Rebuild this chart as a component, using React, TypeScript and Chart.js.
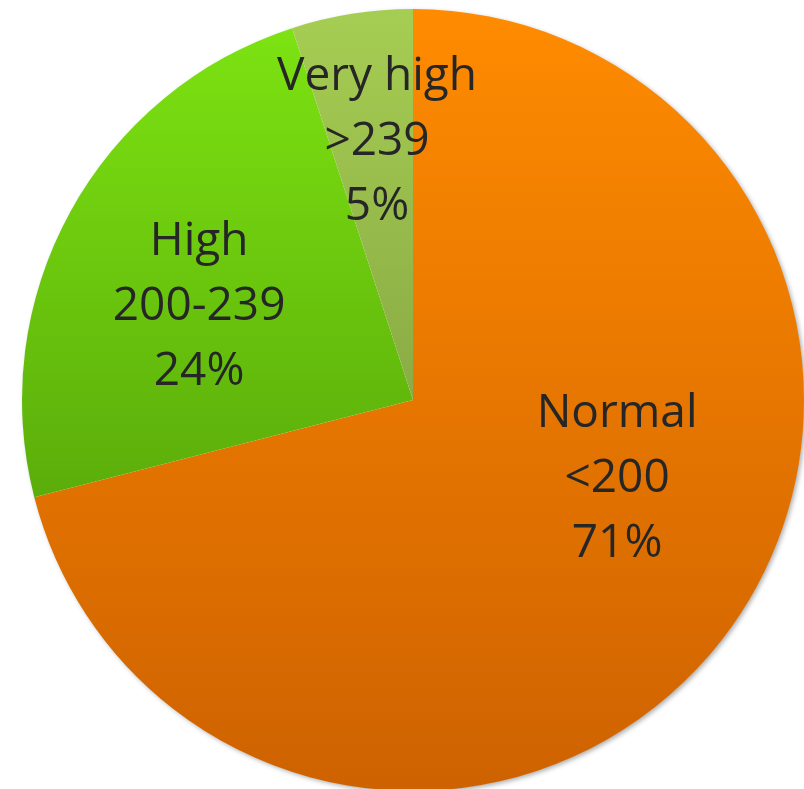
import React, { useEffect, useRef } from "react";
import { Chart, registerables } from "chart.js";

Chart.register(...registerables);

// Cholesterol level categories
const categories = ["Normal", "High", "Very high"];
const ranges = ["<200", "200-239", ">239"];
const shares = [71, 24, 5];

// Vertical gradient stops per slice: [top, bottom]
const sliceGradients = [
  ["#FF8B00", "#CE6200"],
  ["#7EE512", "#468C05"],
  ["#A6CD53", "#6E8A36"],
];

// Label anchor (middle line baseline) in units of the pie radius from the centre
const labelAnchors = [
  [0.522, 0.235],
  [-0.547, -0.205],
  [-0.092, -0.627],
];

const LABEL_FONT = "46px 'Open Sans', 'DejaVu Sans', sans-serif";
const LINE_GAP = 65;

const pieShadow = {
  id: "pieShadow",
  beforeDatasetsDraw(chart: any) {
    const arc = chart.getDatasetMeta(0).data[0];
    if (!arc) return;
    const { ctx } = chart;
    ctx.save();
    ctx.shadowColor = "rgba(0,0,0,0.35)";
    ctx.shadowBlur = 5;
    ctx.shadowOffsetX = 2;
    ctx.shadowOffsetY = 2;
    ctx.fillStyle = "#ffffff";
    ctx.beginPath();
    ctx.arc(arc.x, arc.y, arc.outerRadius - 0.5, 0, Math.PI * 2);
    ctx.fill();
    ctx.restore();
  },
};

const sliceLabels = {
  id: "sliceLabels",
  afterDatasetsDraw(chart: any) {
    const { ctx } = chart;
    const arcs = chart.getDatasetMeta(0).data;
    ctx.save();
    ctx.font = LABEL_FONT;
    ctx.fillStyle = "#262626";
    ctx.textAlign = "center";
    ctx.textBaseline = "alphabetic";
    arcs.forEach((arc: any, i: number) => {
      const r = arc.outerRadius;
      const x = arc.x + labelAnchors[i][0] * r;
      const y = arc.y + labelAnchors[i][1] * r;
      const lines = [categories[i], ranges[i], `${shares[i]}%`];
      lines.forEach((t, k) => ctx.fillText(t, x, y + (k - 1) * LINE_GAP));
    });
    ctx.restore();
  },
};

export default function App() {
  const canvasRef = useRef<HTMLCanvasElement | null>(null);

  useEffect(() => {
    document.body.style.margin = "0";
    document.body.style.overflow = "hidden";
    const canvas = canvasRef.current;
    if (!canvas) return;
    const chart = new Chart(canvas, {
      type: "pie",
      data: {
        labels: categories,
        datasets: [
          {
            data: shares,
            borderWidth: 0,
            backgroundColor: (context: any) => {
              const c = context.chart;
              const area = c.chartArea;
              const i = context.dataIndex ?? 0;
              const stops = sliceGradients[i % sliceGradients.length];
              if (!area) return stops[0];
              const g = c.ctx.createLinearGradient(0, area.top, 0, area.bottom);
              g.addColorStop(0, stops[0]);
              g.addColorStop(1, stops[1]);
              return g;
            },
          },
        ],
      },
      options: {
        responsive: false,
        animation: false,
        layout: { padding: 9 },
        plugins: {
          legend: { display: false },
          tooltip: { enabled: false },
        },
      },
      plugins: [pieShadow, sliceLabels],
    });
    return () => chart.destroy();
  }, []);

  return (
    <div
      style={{
        position: "fixed",
        left: 0,
        top: 0,
        width: 804,
        height: 789,
        overflow: "hidden",
        background: "#ffffff",
      }}
    >
      <canvas ref={canvasRef} width={826} height={800} style={{ display: "block" }} />
    </div>
  );
}
